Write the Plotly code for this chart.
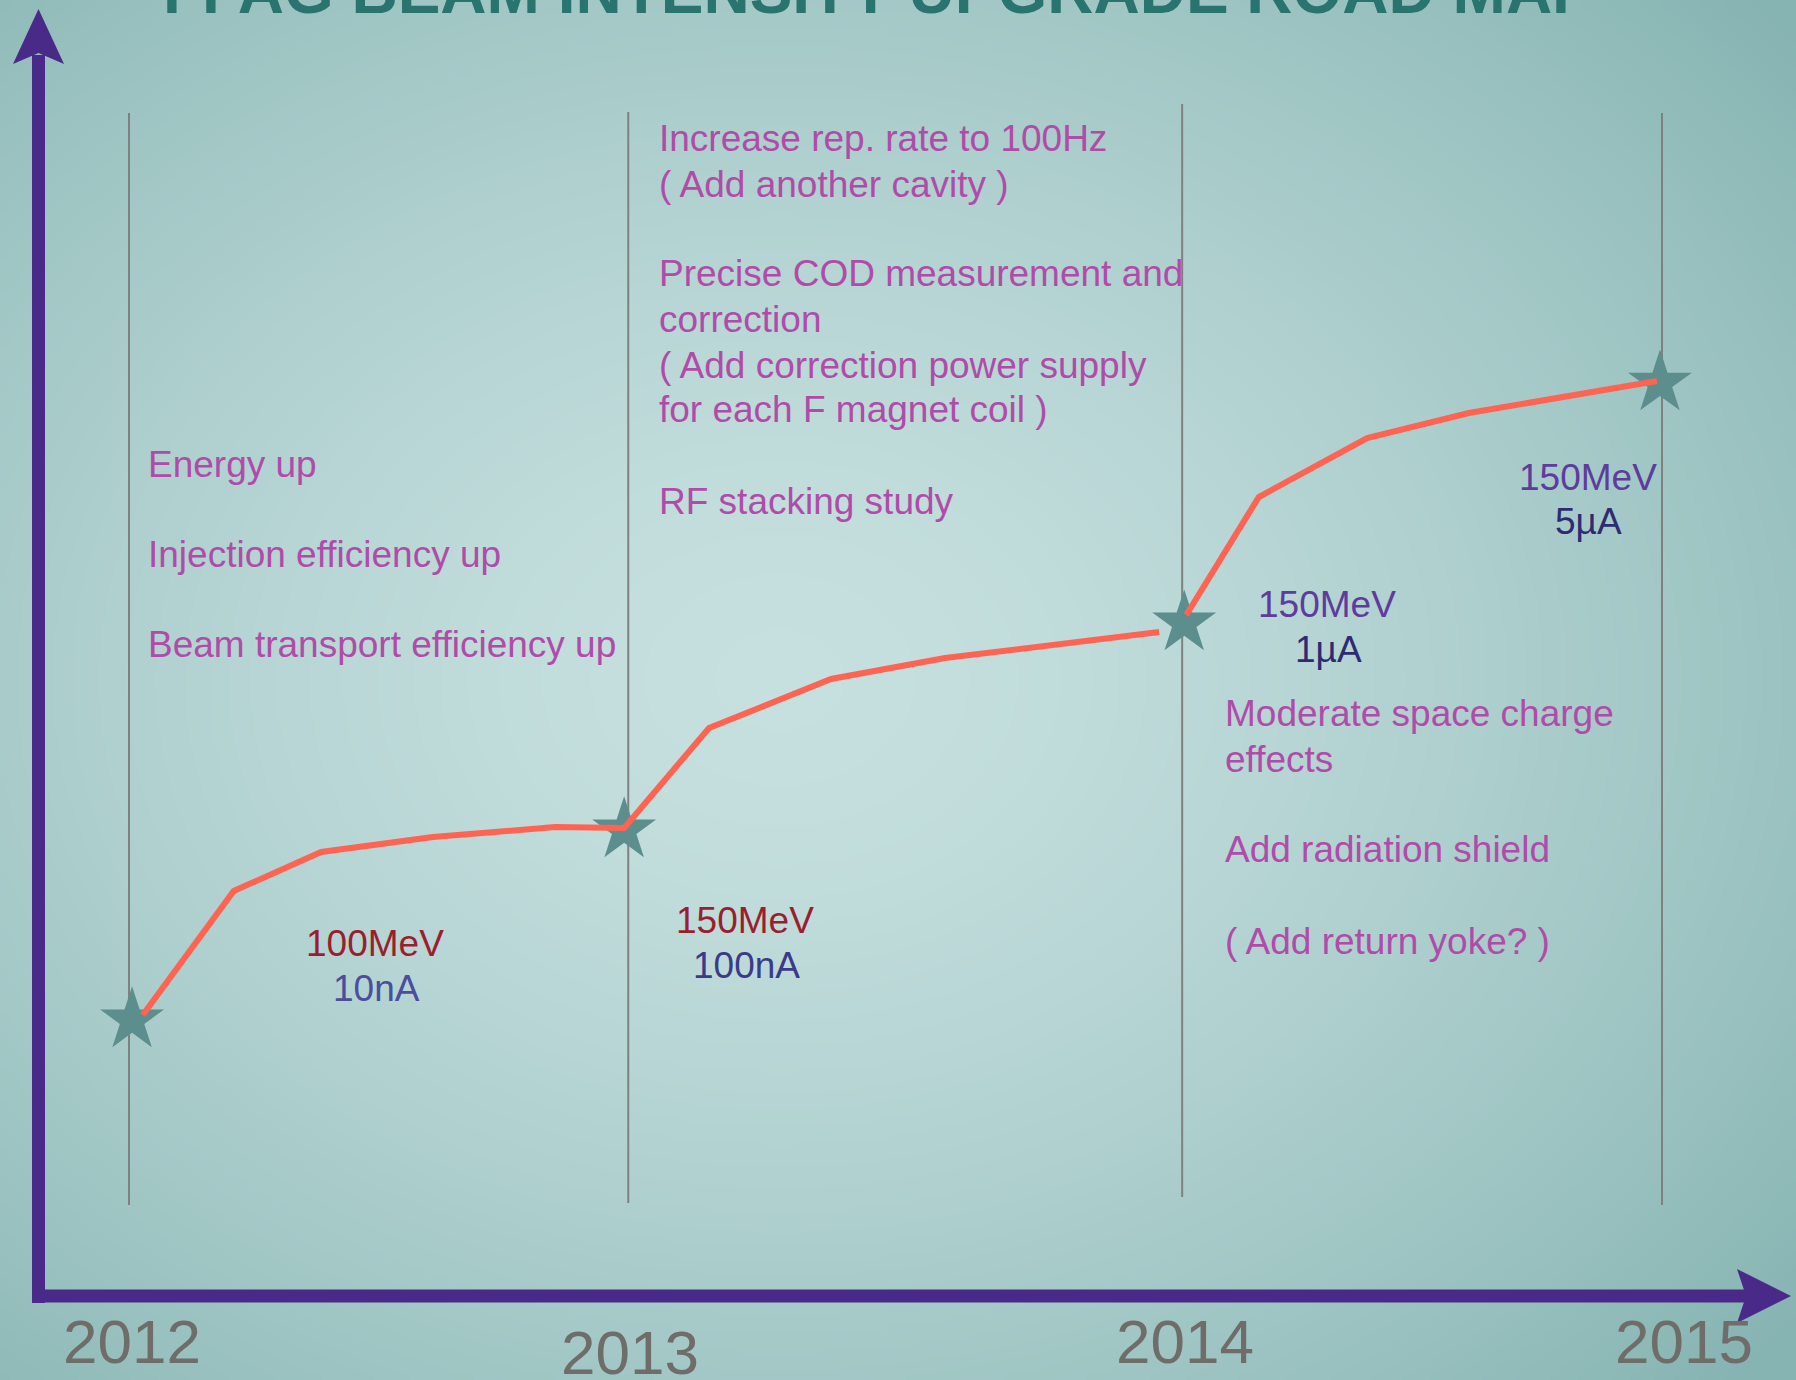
import base64
import struct
import zlib

import numpy as np
import plotly.graph_objects as go

# ---------------- data ----------------
years = ["2012", "2013", "2014", "2015"]
# milestone positions (fractional year)
milestone_x = [2012.000, 2012.977, 2014.061, 2015.000]
star_x = [2012.006, 2012.969, 2014.065, 2014.996]
star_y = [21.51, 36.26, 52.33, 70.96]          # relative beam intensity (arb. units)

# intensity road-map curve, three segments (None = gap)
curve_x = [2012.027, 2012.205, 2012.376, 2012.595, 2012.834, 2012.969,
           2013.135, 2013.374, 2013.597, 2014.016, None,
           2014.069, 2014.211, 2014.423, 2014.622, 2014.990]
curve_y = [21.89, 31.52, 34.55, 35.71, 36.49, 36.41,
           44.18, 47.98, 49.61, 51.63, None,
           52.95, 62.11, 66.69, 68.63, 71.12]

energy_labels = ["100MeV", "150MeV", "150MeV", "150MeV"]
current_labels = ["10nA", "100nA", "1µA", "5µA"]

tasks_2012 = ["Energy up", "Injection efficiency up", "Beam transport efficiency up"]
tasks_2013 = ["Increase rep. rate to 100Hz", "( Add another cavity )",
              "Precise COD measurement and", "correction",
              "( Add correction power supply", "for each F magnet coil )",
              "RF stacking study"]
tasks_2014 = ["Moderate space charge", "effects", "Add radiation shield",
              "( Add return yoke? )"]

title_text = "FFAG BEAM INTENSITY UPGRADE ROAD MAP"

# ---------------- geometry helpers ----------------
W, H = 1796, 1380


def PX(px):
    return px / W


def PY(py):
    return 1 - py / H


# ---------------- background gradient image ----------------
def make_png(arr):
    h, w, _ = arr.shape
    raw = b"".join(b"\x00" + arr[i].tobytes() for i in range(h))

    def chunk(tag, data):
        c = struct.pack(">I", len(data)) + tag + data
        return c + struct.pack(">I", zlib.crc32(tag + data) & 0xFFFFFFFF)

    return (b"\x89PNG\r\n\x1a\n"
            + chunk(b"IHDR", struct.pack(">IIBBBBB", w, h, 8, 2, 0, 0, 0))
            + chunk(b"IDAT", zlib.compress(raw, 9))
            + chunk(b"IEND", b""))


gw, gh = 449, 345
gx = (np.arange(gw) + 0.5) / gw * W
gy = (np.arange(gh) + 0.5) / gh * H
XX, YY = np.meshgrid(gx, gy)
t = np.sqrt(((XX - 780) / 1050) ** 2 + ((YY - 680) / 820) ** 2)
f = (np.clip(t, 0, 1.25) / 1.25) ** 1.5
c0 = np.array([198, 224, 223], dtype=float)
c1 = np.array([134, 180, 178], dtype=float)
img = (c0[None, None, :] + (c1 - c0)[None, None, :] * f[:, :, None]).round().astype(np.uint8)
bg_uri = "data:image/png;base64," + base64.b64encode(make_png(img)).decode()

# ---------------- figure ----------------
fig = go.Figure()

fig.add_trace(go.Scatter(
    x=star_x, y=star_y, mode="markers",
    marker=dict(symbol="star", size=48, color="#5b8e8d", line=dict(width=0)),
    hoverinfo="skip", showlegend=False))

fig.add_trace(go.Scatter(
    x=curve_x, y=curve_y, mode="lines", connectgaps=False,
    line=dict(color="#ff6352", width=6),
    hoverinfo="skip", showlegend=False))

shapes = []
# milestone vertical lines
v_tops = [113, 112, 104, 113]
v_bots = [1205, 1203, 1197, 1205]
for mx, t0, b0 in zip(milestone_x, v_tops, v_bots):
    shapes.append(dict(type="line", xref="x", yref="paper", x0=mx, x1=mx,
                       y0=PY(b0), y1=PY(t0), layer="below",
                       line=dict(color="#808080", width=2)))

purple = "#4a2a89"
# y axis arrow
shapes.append(dict(type="line", xref="paper", yref="paper",
                   x0=PX(38.5), x1=PX(38.5), y0=PY(1303), y1=PY(55),
                   line=dict(color=purple, width=13)))
shapes.append(dict(type="path", xref="paper", yref="paper",
                   path=f"M {PX(38.5)},{PY(9)} L {PX(64)},{PY(64)} L {PX(38.5)},{PY(53)} L {PX(13)},{PY(64)} Z",
                   fillcolor=purple, line=dict(width=0)))
# x axis arrow
shapes.append(dict(type="line", xref="paper", yref="paper",
                   x0=PX(32), x1=PX(1748), y0=PY(1296), y1=PY(1296),
                   line=dict(color=purple, width=13)))
shapes.append(dict(type="path", xref="paper", yref="paper",
                   path=f"M {PX(1791)},{PY(1296)} L {PX(1737)},{PY(1269)} L {PX(1746)},{PY(1296)} L {PX(1737)},{PY(1323)} Z",
                   fillcolor=purple, line=dict(width=0)))

annotations = []
FONT = "Liberation Sans, Arial, Helvetica, sans-serif"


def add_text(text, x, baseline, size, color, anchor="left", bold=False):
    txt = f"<b>{text}</b>" if bold else text
    annotations.append(dict(
        text=txt, xref="paper", yref="paper", x=PX(x), y=PY(baseline - 0.355 * size),
        xanchor=anchor, yanchor="middle", showarrow=False,
        font=dict(family=FONT, size=size, color=color)))


magenta = "#b04ca8"
for txt, bl in zip(tasks_2012, [478, 568, 658]):
    add_text(txt, 146, bl, 37, magenta)
for txt, bl in zip(tasks_2013, [152, 198, 287, 333, 379, 423, 515]):
    add_text(txt, 657, bl, 37, magenta)
for txt, bl in zip(tasks_2014, [727, 773, 863, 955]):
    add_text(txt, 1223, bl, 37, magenta)

# milestone labels
energy_pos = [(375, 957), (745, 934), (1327, 618), (1588, 491)]
energy_col = ["#9a1f2e", "#9a1f2e", "#5e3c9b", "#5e3c9b"]
current_pos = [(376, 1002), (746, 979), (1328, 663), (1588, 535)]
current_col = ["#4b4d9d", "#3a3a8b", "#2e2b72", "#2e2b72"]
for lab, (x, b), c in zip(energy_labels, energy_pos, energy_col):
    add_text(lab, x, b, 37, c, anchor="center")
for lab, (x, b), c in zip(current_labels, current_pos, current_col):
    add_text(lab, x, b, 37, c, anchor="center")

# year labels
year_pos = [(132, 1364), (630, 1375), (1185, 1364), (1684, 1364)]
for yl, (x, b) in zip(years, year_pos):
    add_text(yl, x, b, 62, "#6f6d69", anchor="center")

# title (cut off at top of the page)
add_text(title_text, 879, 14, 64, "#2a7470", anchor="center", bold=True)

fig.update_layout(
    width=W, height=H, autosize=False,
    margin=dict(l=0, r=0, t=0, b=0, pad=0),
    paper_bgcolor="#b3d3d2", plot_bgcolor="rgba(0,0,0,0)",
    xaxis=dict(range=[2011.74755, 2015.26223], visible=False, fixedrange=True),
    yaxis=dict(range=[-6.444, 100.699], visible=False, fixedrange=True),
    shapes=shapes, annotations=annotations,
    images=[dict(source=bg_uri, xref="paper", yref="paper", x=0, y=1,
                 sizex=1, sizey=1, sizing="stretch", xanchor="left",
                 yanchor="top", layer="below")],
    showlegend=False,
)

fig.write_html(
    "out.html",
    config=dict(displayModeBar=False, staticPlot=True),
    post_script="document.body.style.margin='0';document.body.style.padding='0';"
                "document.documentElement.style.overflow='hidden';",
)
